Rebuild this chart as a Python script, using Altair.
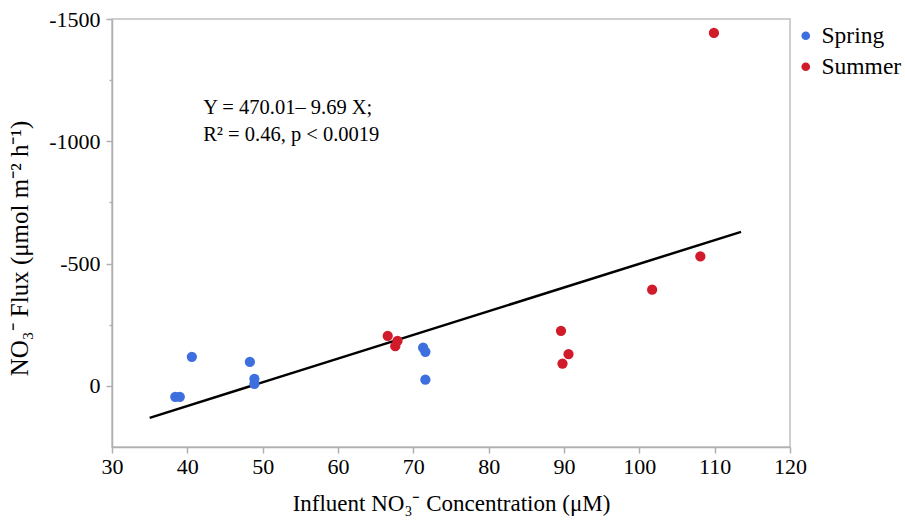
import altair as alt
import pandas as pd

# Influent NO3- concentration (uM) and NO3- flux (umol m-2 h-1), by season
spring_conc = [38.4, 39.0, 40.6, 48.3, 48.9, 48.9, 71.3, 71.6, 71.6]
spring_flux = [45, 45, -119, -98, -29, -8, -156, -139, -25]

summer_conc = [66.6, 67.9, 67.6, 89.6, 90.6, 89.8, 101.7, 108.1, 109.9]
summer_flux = [-204, -184, -162, -225, -130, -91, -393, -529, -1443]

# Linear fit reported for the pooled data
fit_intercept = 470.01
fit_slope = -9.69
fit_x = [35.0, 113.5]

fit_label = ["Y = 470.01\u2013 9.69 X;", "R\u00b2 = 0.46, p < 0.0019"]
label_x = [42.1, 42.1]
label_y = [-1135, -1025]

x_ticks = [30, 40, 50, 60, 70, 80, 90, 100, 110, 120]
y_ticks = [-1500, -1250, -1000, -750, -500, -250, 0]

FONT = "Liberation Serif"

points = pd.DataFrame({
    "conc": spring_conc + summer_conc,
    "flux": spring_flux + summer_flux,
    "season": ["Spring"] * len(spring_conc) + ["Summer"] * len(summer_conc),
})
fit = pd.DataFrame({
    "conc": fit_x,
    "flux": [fit_intercept + fit_slope * v for v in fit_x],
})
notes = pd.DataFrame({"conc": label_x, "flux": label_y, "text": fit_label})

x_enc = alt.X(
    "conc:Q",
    scale=alt.Scale(domain=[30, 120], nice=False, zero=False),
    axis=alt.Axis(
        values=x_ticks,
        title="Influent NO\u2083\u207b Concentration (\u03bcM)",
        titleFontSize=23,
        titleFontWeight="normal",
        titlePadding=15,
        labelFontSize=22,
        labelPadding=3,
        labelFlush=False,
        tickSize=6,
        grid=False,
    ),
)
y_enc = alt.Y(
    "flux:Q",
    scale=alt.Scale(domain=[-1500, 250], nice=False, zero=False, reverse=True),
    axis=alt.Axis(
        values=y_ticks,
        labelExpr="datum.value % 500 === 0 ? (datum.value + '') : ''",
        tickSize={"expr": "datum.value % 500 === 0 ? 6 : 3"},
        title="NO\u2083\u207b Flux (\u03bcmol m\u207b\u00b2 h\u207b\u00b9)",
        titleFontSize=25,
        titleFontWeight="normal",
        titlePadding=16,
        titleY=229,
        labelFontSize=22,
        labelPadding=6,
        labelFlush=False,
        grid=False,
    ),
)

scatter = alt.Chart(points).mark_circle(size=105, opacity=1).encode(
    x=x_enc,
    y=y_enc,
    color=alt.Color(
        "season:N",
        scale=alt.Scale(domain=["Spring", "Summer"], range=["#3e6fdf", "#d11a2a"]),
        legend=alt.Legend(
            title=None,
            orient="none",
            legendX=682,
            legendY=5,
            labelFontSize=23.5,
            labelFont=FONT,
            symbolType="circle",
            symbolSize=75,
            rowPadding=6,
            labelOffset=4,
        ),
    ),
)

line = alt.Chart(fit).mark_line(color="black", strokeWidth=2.5).encode(
    x="conc:Q", y="flux:Q"
)

text = alt.Chart(notes).mark_text(
    align="left", baseline="middle", fontSize=20.5, font=FONT, color="black"
).encode(x="conc:Q", y="flux:Q", text="text:N")

chart = (
    alt.layer(line, scatter, text)
    .properties(
        width=678,
        height=428,
        autosize=alt.AutoSizeParams(type="none"),
        padding={"left": 112, "top": 19, "right": 115, "bottom": 73},
        background="white",
    )
    .configure_axis(
        labelFont=FONT,
        titleFont=FONT,
        labelColor="black",
        titleColor="black",
        domainColor="#b0b0b0",
        domainWidth=1.5,
        tickColor="#b0b0b0",
        tickWidth=1.5,
    )
    .configure_view(stroke="#c0c0c0", strokeWidth=1.5)
)

chart.save("out.html", embed_options={"renderer": "svg", "actions": False})
